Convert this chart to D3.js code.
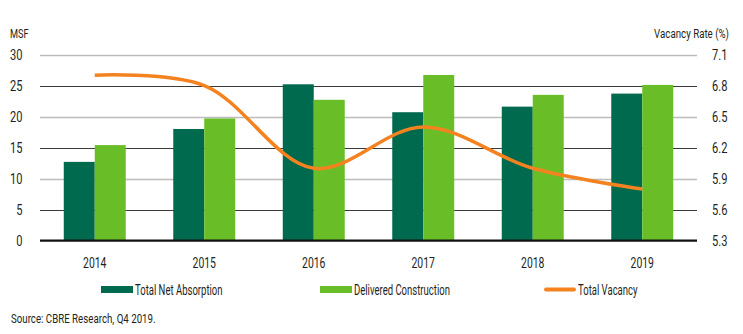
<!DOCTYPE html>
<html>
<head>
<meta charset="utf-8">
<script src="https://cdn.jsdelivr.net/npm/d3@7"></script>
<style>
  body { margin: 0; background: #fff; }
  svg text { font-family: "Roboto", "Liberation Sans", sans-serif; fill: #231f20; }
</style>
</head>
<body>
<div id="page"></div>
<script>
(function() {

  "use strict";

  var years = [ "2014", "2015", "2016", "2017", "2018", "2019" ],
    net_absorption = [ 12.7, 18.0, 25.2, 20.7, 21.6, 23.7 ],
    delivered = [ 15.4, 19.7, 22.7, 26.7, 23.5, 25.1 ],
    vacancy = [ 6.9, 6.8, 6.0, 6.4, 6.0, 5.8 ],
    left_ticks = [ 0, 5, 10, 15, 20, 25, 30 ],
    right_ticks = [ 5.3, 5.6, 5.9, 6.2, 6.5, 6.8, 7.1 ];

  var series_names = [ "Total Net Absorption", "Delivered Construction", "Total Vacancy" ],
    colors = [ "#006a4e", "#69be28", "#f3821f" ];

  /* * * * * * * * * * * * * * * * * * * */

  var w = 743,
    h = 334,
    left = 40,
    right = 697,
    top = 54.5,
    bottom = 240.7;

  // the original uses a very condensed face, so narrow the glyphs around their anchor
  function squeeze( sel, k ) {
    sel.attr( "transform", function() {
      var x0 = +d3.select( this ).attr( "x" );
      return "translate(" + ( x0 * ( 1 - k ) ) + ",0) scale(" + k + ",1)";
    });
  }

  var svg = d3.select( "#page" ).append( "svg" )
    .attr( "width", w )
    .attr( "height", h );

  var x = d3.scaleBand()
    .domain( years )
    .range( [ left, right ] )
    .paddingInner( 0.434 )
    .paddingOuter( 0.217 );

  var xs = d3.scaleBand()
    .domain( [ 0, 1 ] )
    .range( [ 0, x.bandwidth() ] );

  var y = d3.scaleLinear().domain( [ 0, 30 ] ).range( [ bottom, top ] );
  var y2 = d3.scaleLinear().domain( [ 5.3, 7.1 ] ).range( [ bottom, top ] );

  /* * * * * * * * * * * * * * * * * * * */

  // gridlines, alternating grey and dark
  svg.append( "g" ).selectAll( "line" )
    .data( left_ticks.slice( 1 ) )
    .enter().append( "line" )
    .attr( "x1", left )
    .attr( "x2", right )
    .attr( "y1", function( d ) { return Math.round( y( d ) ) + 0.5; } )
    .attr( "y2", function( d ) { return Math.round( y( d ) ) + 0.5; } )
    .attr( "stroke", function( d ) { return d % 10 === 0 ? "#bcbcbc" : "#3a3a3a"; } )
    .attr( "stroke-width", function( d ) { return d % 10 === 0 ? 1.6 : 1.1; } );

  svg.append( "g" ).selectAll( "text" )
    .data( left_ticks )
    .enter().append( "text" )
    .attr( "x", 22.5 )
    .attr( "y", function( d ) { return y( d ) + 5.5; } )
    .attr( "text-anchor", "end" )
    .style( "font-size", "15px" )
    .text( function( d ) { return d; } )
    .call( squeeze, 0.74 );

  svg.append( "g" ).selectAll( "text" )
    .data( right_ticks )
    .enter().append( "text" )
    .attr( "x", 712 )
    .attr( "y", function( d ) { return y2( d ) + 5.5; } )
    .style( "font-size", "15px" )
    .text( function( d ) { return d3.format( ".1f" )( d ); } )
    .call( squeeze, 0.74 );

  svg.append( "text" )
    .attr( "x", 10 )
    .attr( "y", 38 )
    .style( "font-size", "13.5px" )
    .text( "MSF" )
    .call( squeeze, 0.68 );

  svg.append( "text" )
    .attr( "x", 729 )
    .attr( "y", 38 )
    .attr( "text-anchor", "end" )
    .style( "font-size", "13.5px" )
    .text( "Vacancy Rate (%)" )
    .call( squeeze, 0.72 );

  /* * * * * * * * * * * * * * * * * * * */

  var groups = svg.append( "g" ).selectAll( "g" )
    .data( years )
    .enter().append( "g" )
    .attr( "transform", function( d ) { return "translate(" + x( d ) + ",0)"; } );

  groups.selectAll( "rect" )
    .data( function( d, i ) { return [ net_absorption[ i ], delivered[ i ] ]; } )
    .enter().append( "rect" )
    .attr( "x", function( d, j ) { return xs( j ); } )
    .attr( "width", xs.bandwidth() )
    .attr( "y", function( d ) { return y( d ); } )
    .attr( "height", function( d ) { return y( 0 ) - y( d ); } )
    .attr( "fill", function( d, j ) { return colors[ j ]; } );

  // baseline
  svg.append( "line" )
    .attr( "x1", left )
    .attr( "x2", right )
    .attr( "y1", y( 0 ) )
    .attr( "y2", y( 0 ) )
    .attr( "stroke", "#111" )
    .attr( "stroke-width", 2.2 );

  svg.append( "g" ).selectAll( "text" )
    .data( years )
    .enter().append( "text" )
    .attr( "x", function( d ) { return x( d ) + x.bandwidth() / 2; } )
    .attr( "y", 268 )
    .attr( "text-anchor", "middle" )
    .style( "font-size", "14.5px" )
    .text( function( d ) { return d; } )
    .call( squeeze, 0.72 );

  /* * * * * * * * * * * * * * * * * * * */

  var line = d3.line()
    .x( function( d, i ) { return x( years[ i ] ) + x.bandwidth() / 2; } )
    .y( function( d ) { return y2( d ); } )
    .curve( d3.curveCatmullRom.alpha( 0.5 ) );

  svg.append( "path" )
    .datum( vacancy )
    .attr( "d", line )
    .attr( "fill", "none" )
    .attr( "stroke", colors[ 2 ] )
    .attr( "stroke-width", 3.5 );

  /* * * * * * * * * * * * * * * * * * * */

  var legend_x = [ 101, 320, 544 ];

  var legend = svg.append( "g" ).selectAll( "g" )
    .data( series_names )
    .enter().append( "g" )
    .attr( "transform", function( d, i ) { return "translate(" + legend_x[ i ] + ",289.5)"; } );

  legend.append( "rect" )
    .attr( "x", 0 )
    .attr( "y", function( d, i ) { return i < 2 ? -3.5 : -2; } )
    .attr( "width", 32 )
    .attr( "height", function( d, i ) { return i < 2 ? 7 : 4; } )
    .attr( "rx", function( d, i ) { return i < 2 ? 0 : 2; } )
    .attr( "fill", function( d, i ) { return colors[ i ]; } );

  legend.append( "text" )
    .attr( "x", 34 )
    .attr( "y", 5 )
    .style( "font-size", "14px" )
    .text( function( d ) { return d; } )
    .call( squeeze, 0.68 );

  svg.append( "text" )
    .attr( "x", 11 )
    .attr( "y", 323 )
    .style( "font-size", "13.5px" )
    .text( "Source: CBRE Research, Q4 2019." )
    .call( squeeze, 0.72 );

})();
</script>
</body>
</html>
